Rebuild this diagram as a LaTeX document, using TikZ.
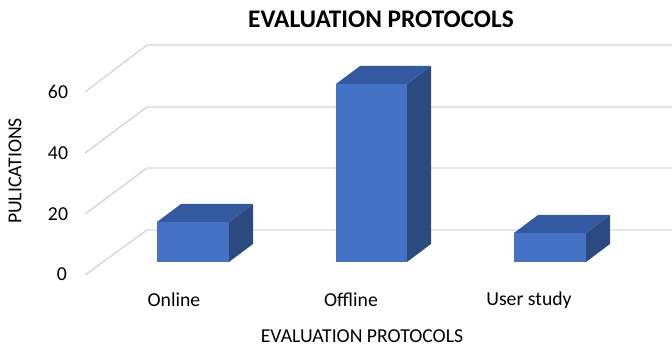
\documentclass[tikz,border=0pt]{standalone}
\usepackage{fontspec}
\setmainfont{Carlito}
\definecolor{barfront}{HTML}{4472C4}
\definecolor{bartop}{HTML}{3359A0}
\definecolor{barside}{HTML}{2B4A80}
\definecolor{gridc}{HTML}{D9D9D9}
\begin{document}
\begin{tikzpicture}[x=0.75pt,y=-0.75pt]
\tikzset{
  gridline/.style={draw=gridc,line width=1.1pt},
  ticklab/.style={font=\fontsize{14.8}{17}\selectfont,anchor=center,inner sep=0pt},
  catlab/.style={font=\fontsize{14.8}{17}\selectfont,anchor=center,inner sep=0pt},
  front/.style={fill=barfront},
  top/.style={fill=bartop},
  side/.style={fill=barside}
}
\useasboundingbox[fill=white] (0,0) rectangle (672,348);
% gridlines
\foreach \yb/\yf in {45/92, 107/153, 168/214, 230/275}{
  \draw[gridline] (85,\yf) -- (147,\yb) -- (672,\yb);
}
% bars: front x1,x2, top y, bottom 262, depth (24,-18)
\newcommand{\mybar}[3]{%
  \fill[side] (#2,#3) -- (#2+24,#3-18) -- (#2+24,244) -- (#2,262) -- cycle;
  \fill[top] (#1,#3) -- (#1+24,#3-18) -- (#2+24,#3-18) -- (#2,#3) -- cycle;
  \fill[front] (#1,#3) rectangle (#2,262);
}
\mybar{157}{229}{222}
\mybar{336}{407}{84}
\mybar{514}{586}{233}
% tick labels
\node[ticklab] (t60) at (58,92) {60};
\node[ticklab] (t40) at (58,153) {40};
\node[ticklab] (t20) at (58,214) {20};
\node[ticklab] (t0) at (62,274) {0};
% category labels
\node[catlab] (c1) at (174,300) {Online};
\node[catlab] (c2) at (351,300) {Offline};
\node[catlab] (c3) at (529,300) {User study};
% axis titles
\node[catlab] (xt) at (362,336) {EVALUATION PROTOCOLS};
\node[catlab,rotate=90] (yt) at (15,171) {PULICATIONS};
\node[font=\fontsize{19}{22}\selectfont\bfseries,inner sep=0pt] (title) at (381,19) {EVALUATION PROTOCOLS};
\end{tikzpicture}
\end{document}
